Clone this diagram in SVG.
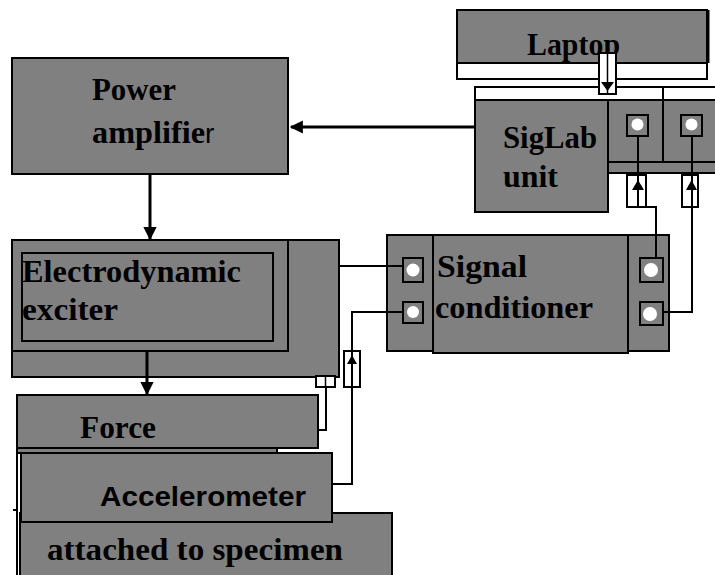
<svg xmlns="http://www.w3.org/2000/svg" width="715" height="575" viewBox="0 0 715 575">
<style>
.box{fill:#808080;stroke:#000;stroke-width:2}
.wbox{fill:#fff;stroke:#000;stroke-width:2}
.port{fill:#808080;stroke:#000;stroke-width:2}
.dot{fill:#fff}
.wire{fill:none;stroke:#000;stroke-width:2}
.arrow{fill:none;stroke:#000;stroke-width:3}
.lbl{font-family:"Liberation Serif","Times New Roman",serif;font-weight:bold;font-size:32px;fill:#000}
.sans{font-family:"Liberation Sans",Arial,sans-serif;font-weight:bold;font-size:27px;fill:#000}
</style>
<defs>
<marker id="ah" viewBox="0 0 10 10" refX="9" refY="5" markerWidth="5" markerHeight="4.4" orient="auto" markerUnits="strokeWidth">
<path d="M0,0 L10,5 L0,10 z" fill="#000"/>
</marker>
</defs>
<rect width="715" height="575" fill="#fff"/>

<g id="specimen">
<rect class="box" x="20" y="513" width="372" height="70"/>
<text class="lbl" x="47" y="560" textLength="296" lengthAdjust="spacingAndGlyphs">attached  to specimen</text>
</g>

<g id="laptop">
<rect class="box" x="457" y="10" width="250" height="53"/>
<line x1="708" y1="10" x2="708" y2="63" stroke="#000" stroke-width="3"/>
<rect class="wbox" x="457" y="63" width="250" height="16"/>
<text class="lbl" x="527" y="55" textLength="93" lengthAdjust="spacingAndGlyphs">Laptop</text>
</g>

<g id="siglab">
<rect class="wbox" x="475" y="87" width="245" height="13"/>
<rect class="box" x="607" y="100" width="113" height="73"/>
<line x1="607" y1="162" x2="715" y2="162" stroke="#000" stroke-width="2"/>
<line x1="663" y1="87" x2="663" y2="162" stroke="#000" stroke-width="2"/>
<rect class="box" x="475" y="100" width="133" height="112"/>
<text class="lbl" x="503" y="148" textLength="94" lengthAdjust="spacingAndGlyphs">SigLab</text>
<text class="lbl" x="503" y="187" textLength="55" lengthAdjust="spacingAndGlyphs">unit</text>
<rect class="port" x="627" y="115" width="21" height="21"/>
<circle class="dot" cx="637.5" cy="124.5" r="6"/>
<rect class="port" x="681" y="115" width="21" height="21"/>
<circle class="dot" cx="691.5" cy="124.5" r="6"/>
</g>

<g id="power-amplifier">
<rect class="box" x="12" y="58" width="276" height="116"/>
<text class="lbl" x="92" y="100" textLength="84" lengthAdjust="spacingAndGlyphs">Power</text>
<text class="lbl" x="92" y="143">
<tspan textLength="113" lengthAdjust="spacingAndGlyphs">amplifie</tspan><tspan font-family="'Liberation Sans',Arial,sans-serif" font-weight="normal" font-size="28">r</tspan></text>
</g>

<g id="exciter">
<rect class="box" x="12" y="240" width="327" height="137"/>
<rect class="box" x="12" y="240" width="276" height="111"/>
<rect class="box" x="22" y="253" width="251" height="88"/>
<text class="lbl" x="22" y="282" textLength="219" lengthAdjust="spacingAndGlyphs">Electrodynamic</text>
<text class="lbl" x="22" y="320" textLength="96" lengthAdjust="spacingAndGlyphs">exciter</text>
</g>

<g id="signal-conditioner">
<rect class="box" x="387" y="235" width="282" height="116"/>
<rect class="box" x="433" y="235" width="195" height="118"/>
<text class="lbl" x="437" y="277" textLength="90" lengthAdjust="spacingAndGlyphs">Signal</text>
<text class="lbl" x="435" y="318" textLength="158" lengthAdjust="spacingAndGlyphs">conditioner</text>
<rect class="port" x="403" y="258" width="20" height="24"/>
<circle class="dot" cx="413" cy="270" r="6.5"/>
<rect class="port" x="403" y="302" width="20" height="21"/>
<circle class="dot" cx="413" cy="312" r="6"/>
<rect class="port" x="640" y="258" width="23" height="24"/>
<circle class="dot" cx="651" cy="270" r="7"/>
<rect class="port" x="640" y="302" width="23" height="23"/>
<circle class="dot" cx="650" cy="314" r="7"/>
</g>

<g id="force">
<rect class="box" x="17" y="395" width="301" height="53"/>
<text class="lbl" x="80" y="438" textLength="76" lengthAdjust="spacingAndGlyphs">Force</text>
</g>

<g id="accelerometer">
<rect class="box" x="17" y="448" width="260" height="5"/>
<rect class="box" x="21" y="453" width="311" height="69"/>
<text class="sans" x="100" y="506" textLength="206" lengthAdjust="spacingAndGlyphs">Accelerometer</text>
<line x1="17" y1="448" x2="17" y2="575" stroke="#000" stroke-width="2"/>
<line x1="13" y1="510" x2="17" y2="510" stroke="#000" stroke-width="2"/>
</g>

<g id="connectors">
<line class="arrow" x1="475" y1="127" x2="291" y2="127" marker-end="url(#ah)"/>
<line class="arrow" x1="150" y1="174" x2="150" y2="239" marker-end="url(#ah)"/>
<line class="arrow" x1="147" y1="351" x2="147" y2="394" marker-end="url(#ah)"/>
<rect class="wbox" x="599" y="53" width="17" height="41"/>
<line x1="607.5" y1="53" x2="607.5" y2="94" stroke="#000" stroke-width="1.5"/>
<path d="M601,82 L614,82 L607.5,91 z" fill="#000"/>
<polyline class="wire" points="638,136 638,207 656,207 656,258"/>
<polyline class="wire" points="692,136 692,312 663,312"/>
<rect class="wbox" x="627" y="175" width="19" height="32"/>
<line x1="638" y1="175" x2="638" y2="207" stroke="#000" stroke-width="2"/>
<path d="M632,190 L644,190 L638,180 z" fill="#000"/>
<rect class="wbox" x="682" y="175" width="16" height="32"/>
<line x1="692" y1="175" x2="692" y2="207" stroke="#000" stroke-width="2"/>
<path d="M686,190 L697,190 L691.5,180 z" fill="#000"/>
<line class="wire" x1="339" y1="266" x2="403" y2="266"/>
<polyline class="wire" points="403,312 352,312 352,484 332,484"/>
<rect class="wbox" x="344" y="351" width="16" height="36"/>
<line x1="352" y1="351" x2="352" y2="387" stroke="#000" stroke-width="2"/>
<path d="M347,364 L357,364 L352,355 z" fill="#000"/>
<rect class="wbox" x="316" y="376" width="19" height="11"/>
<line x1="325.5" y1="376" x2="325.5" y2="387" stroke="#000" stroke-width="1.5"/>
<polyline class="wire" points="326,387 326,430 318,430"/>
</g>
</svg>
